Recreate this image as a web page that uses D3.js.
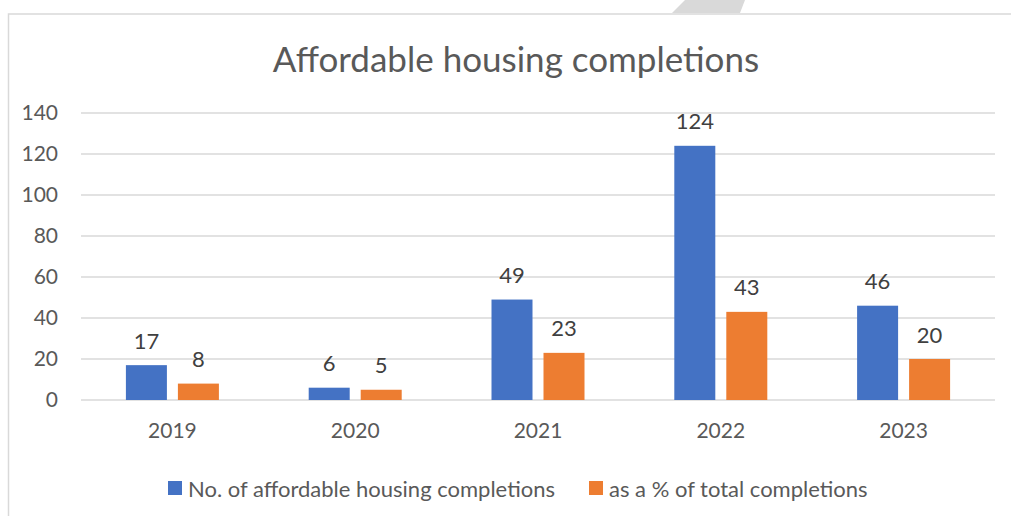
<!DOCTYPE html>
<html>
<head>
<meta charset="utf-8">
<script src="https://cdn.jsdelivr.net/npm/d3@7"></script>
<style>
  html, body { margin: 0; padding: 0; background: #fff; }
  svg text { font-family: Lato, "Open Sans", sans-serif; }
</style>
</head>
<body>
<div id="chart"></div>
<script>
// data
const years = ["2019", "2020", "2021", "2022", "2023"];
const seriesNames = ["No. of affordable housing completions", "as a % of total completions"];
const completions = [17, 6, 49, 124, 46];
const pctOfTotal = [8, 5, 23, 43, 20];
const yTicks = [0, 20, 40, 60, 80, 100, 120, 140];
const colors = ["#4472C4", "#ED7D31"];

const W = 1011, H = 516;
const plot = { left: 81, right: 995, top: 113, bottom: 400 };

const svg = d3.select("#chart").append("svg")
  .attr("width", W)
  .attr("height", H);

// chart frame (runs off the right edge like the screenshot)
svg.append("rect")
  .attr("x", 8.5).attr("y", 14)
  .attr("width", W + 20).attr("height", H + 20)
  .attr("fill", "none")
  .attr("stroke", "#d9d9d9")
  .attr("stroke-width", 1.5);

// grey sliver of an overlapping shape at the top
svg.append("path")
  .attr("d", "M685,0 L745,0 L740,13 L672,13 Z")
  .attr("fill", "#d9d9d9");

svg.append("text")
  .attr("x", 516).attr("y", 58)
  .attr("text-anchor", "middle")
  .attr("dominant-baseline", "central")
  .attr("fill", "#595959")
  .style("font-size", "35px")
  .text("Affordable housing completions");

const x0 = d3.scaleBand()
  .domain(years)
  .range([plot.left, plot.right]);

const x1 = d3.scaleBand()
  .domain(seriesNames)
  .range([x0.bandwidth() / 2 - 46.5, x0.bandwidth() / 2 + 46.5])
  .paddingInner(0.2115);

const y = d3.scaleLinear()
  .domain([0, 140])
  .range([plot.bottom, plot.top]);

// gridlines
svg.append("g")
  .selectAll("line")
  .data(yTicks)
  .join("line")
  .attr("x1", plot.left).attr("x2", plot.right)
  .attr("y1", d => y(d)).attr("y2", d => y(d))
  .attr("stroke", "#d9d9d9")
  .attr("stroke-width", 1.5);

// y axis labels
const yAxis = svg.append("g")
  .attr("transform", `translate(${plot.left - 23},0)`)
  .call(d3.axisLeft(y).tickValues(yTicks).tickSize(0).tickPadding(0));
yAxis.select(".domain").remove();
yAxis.selectAll("text")
  .attr("fill", "#595959")
  .style("font-size", "21px")
  .style("font-family", "Lato, 'Open Sans', sans-serif");

// x axis labels
const xAxis = svg.append("g")
  .attr("transform", `translate(0,${plot.bottom + 23})`)
  .call(d3.axisBottom(x0).tickSize(0).tickPadding(0));
xAxis.select(".domain").remove();
xAxis.selectAll("text")
  .attr("fill", "#595959")
  .attr("dy", "0.71em")
  .style("font-size", "21px")
  .style("font-family", "Lato, 'Open Sans', sans-serif");

const rows = years.map((yr, i) => ({
  year: yr,
  values: [
    { name: seriesNames[0], value: completions[i], color: colors[0] },
    { name: seriesNames[1], value: pctOfTotal[i], color: colors[1] }
  ]
}));

const groups = svg.append("g")
  .selectAll("g")
  .data(rows)
  .join("g")
  .attr("transform", d => `translate(${x0(d.year)},0)`);

groups.selectAll("rect")
  .data(d => d.values)
  .join("rect")
  .attr("x", d => x1(d.name))
  .attr("width", x1.bandwidth())
  .attr("y", d => y(d.value))
  .attr("height", d => y(0) - y(d.value))
  .attr("fill", d => d.color);

groups.selectAll("text")
  .data(d => d.values)
  .join("text")
  .attr("x", d => x1(d.name) + x1.bandwidth() / 2)
  .attr("y", d => y(d.value) - 25)
  .attr("text-anchor", "middle")
  .attr("dominant-baseline", "central")
  .attr("fill", "#404040")
  .style("font-size", "22px")
  .text(d => d.value);

// legend
const legendX = [168, 589];
const legend = svg.append("g")
  .selectAll("g")
  .data(seriesNames)
  .join("g")
  .attr("transform", (d, i) => `translate(${legendX[i]},488)`);

legend.append("rect")
  .attr("x", 0).attr("y", -7)
  .attr("width", 14).attr("height", 14)
  .attr("fill", (d, i) => colors[i]);

legend.append("text")
  .attr("x", 20)
  .attr("dominant-baseline", "central")
  .attr("fill", "#595959")
  .style("font-size", "22px")
  .text(d => d);
</script>
</body>
</html>
